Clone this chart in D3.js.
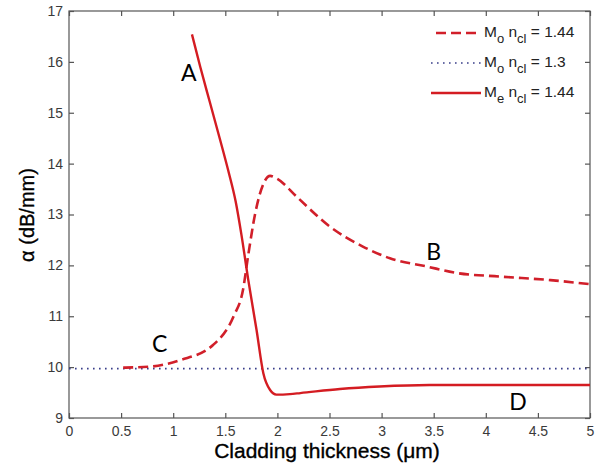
<!DOCTYPE html>
<html>
<head>
<meta charset="utf-8">
<script src="https://cdn.jsdelivr.net/npm/d3@7"></script>
<style>
  body { margin: 0; background: #fff; }
  svg { display: block; }
  .tick text { font-family: "Liberation Sans", Arial, sans-serif; font-size: 14px; fill: #3a3a3a; }
  .label { font-family: "Liberation Sans", Arial, sans-serif; fill: #000; stroke: #000; stroke-width: 0.35px; }
  .legend text { font-family: "Liberation Sans", Arial, sans-serif; font-size: 15.5px; fill: #222; }
  .letter { font-family: Lato, "Open Sans", sans-serif; font-size: 23px; fill: #000; }
</style>
</head>
<body>
<svg width="613" height="470"></svg>
<script>
// thickness (um) vs alpha (dB/mm)
var dashedX = [0.52, 0.78, 1.07, 1.385, 1.58, 1.67, 1.72, 1.785, 1.865, 1.93, 2.0, 2.185, 2.505, 2.82, 3.08, 3.43, 3.72, 4.14, 4.62, 5.0];
var dashedY = [9.99, 10.01, 10.14, 10.44, 11.0, 11.52, 12.2, 13.0, 13.6, 13.76, 13.7, 13.35, 12.76, 12.37, 12.14, 11.98, 11.85, 11.78, 11.71, 11.63];

var dottedX = [0, 5];
var dottedY = [9.97, 9.97];

var solidX = [1.18, 1.26, 1.35, 1.45, 1.53, 1.60, 1.655, 1.72, 1.80, 1.865, 1.93, 1.99, 2.12, 2.22, 2.6, 2.98, 3.46, 4.0, 5.0];
var solidY = [16.54, 15.9, 15.22, 14.47, 13.85, 13.25, 12.6, 11.72, 10.73, 9.88, 9.55, 9.46, 9.47, 9.49, 9.57, 9.62, 9.65, 9.65, 9.65];

var xTicks = [0, 0.5, 1, 1.5, 2, 2.5, 3, 3.5, 4, 4.5, 5];
var yTicks = [9, 10, 11, 12, 13, 14, 15, 16, 17];

var marks = [
  { t: 'A', x: 1.15, y: 15.73 },
  { t: 'B', x: 3.5, y: 12.23 },
  { t: 'C', x: 0.87, y: 10.42 },
  { t: 'D', x: 4.31, y: 9.28 }
];

const svg = d3.select('svg');
const mLeft = 69, mRight = 590, mTop = 11, mBottom = 418;

const x = d3.scaleLinear().domain([0, 5]).range([mLeft, mRight]);
const y = d3.scaleLinear().domain([9, 17]).range([mBottom, mTop]);

const axisColor = '#555';

// frame
svg.append('rect')
  .attr('x', mLeft).attr('y', mTop)
  .attr('width', mRight - mLeft).attr('height', mBottom - mTop)
  .attr('fill', 'none').attr('stroke', axisColor).attr('stroke-width', 1.2);

function styleAxis(g) {
  g.select('.domain').remove();
  g.selectAll('.tick line').attr('stroke', axisColor).attr('stroke-width', 1.2);
}

svg.append('g')
  .attr('transform', `translate(0,${mBottom})`)
  .call(d3.axisBottom(x).tickValues(xTicks).tickSizeInner(-5).tickSizeOuter(0).tickPadding(8).tickFormat(d3.format('')))
  .call(styleAxis);

svg.append('g')
  .attr('transform', `translate(0,${mTop})`)
  .call(d3.axisTop(x).tickValues(xTicks).tickSizeInner(-5).tickSizeOuter(0).tickFormat(''))
  .call(styleAxis);

svg.append('g')
  .attr('transform', `translate(${mLeft},0)`)
  .call(d3.axisLeft(y).tickValues(yTicks).tickSizeInner(-5).tickSizeOuter(0).tickPadding(6))
  .call(styleAxis);

svg.append('g')
  .attr('transform', `translate(${mRight},0)`)
  .call(d3.axisRight(y).tickValues(yTicks).tickSizeInner(-5).tickSizeOuter(0).tickFormat(''))
  .call(styleAxis);

svg.selectAll('.tick text').attr('font-family', null).attr('font-size', null);

const line = d3.line()
  .x(d => x(d[0]))
  .y(d => y(d[1]))
  .curve(d3.curveMonotoneX);

const zip = (a, b) => a.map((v, i) => [v, b[i]]);

svg.append('path')
  .datum(zip(dottedX, dottedY))
  .attr('d', line)
  .attr('fill', 'none')
  .attr('stroke', '#3a3f8a')
  .attr('stroke-width', 1.6)
  .attr('stroke-dasharray', '1.6 4.4');

svg.append('path')
  .datum(zip(dashedX, dashedY))
  .attr('d', line)
  .attr('fill', 'none')
  .attr('stroke', '#d11f2a')
  .attr('stroke-width', 2.6)
  .attr('stroke-dasharray', '10 5');

svg.append('path')
  .datum(zip(solidX, solidY))
  .attr('d', line)
  .attr('fill', 'none')
  .attr('stroke', '#d41c22')
  .attr('stroke-width', 2.4);

svg.selectAll('.letter')
  .data(marks)
  .enter()
  .append('text')
  .attr('class', 'letter')
  .attr('x', d => x(d.x))
  .attr('y', d => y(d.y))
  .attr('text-anchor', 'middle')
  .attr('dominant-baseline', 'middle')
  .text(d => d.t);

// legend
var legendItems = [
  { m: 'o', n: '1.44', dash: '10 5', color: '#d11f2a', w: 2.6 },
  { m: 'o', n: '1.3', dash: '1.6 4.4', color: '#3a3f8a', w: 1.6 },
  { m: 'e', n: '1.44', dash: null, color: '#d41c22', w: 2.4 }
];

const legend = svg.append('g').attr('class', 'legend');
const rows = legend.selectAll('g')
  .data(legendItems)
  .enter()
  .append('g')
  .attr('transform', (d, i) => `translate(0,${33 + i * 30})`);

rows.append('line')
  .attr('x1', (d, i) => i == 0 ? 436 : 431).attr('x2', 481)
  .attr('y1', 0).attr('y2', 0)
  .attr('stroke', d => d.color)
  .attr('stroke-width', d => d.w)
  .attr('stroke-dasharray', d => d.dash);

const lt = rows.append('text').attr('x', 484).attr('y', 4);
lt.append('tspan').text('M');
lt.append('tspan').attr('dy', 6).attr('font-size', 13).text(d => d.m);
lt.append('tspan').attr('dy', -6).text(' n');
lt.append('tspan').attr('dy', 6).attr('font-size', 13).text('cl');
lt.append('tspan').attr('dy', -6).text(d => ' = ' + d.n);

// axis labels
svg.append('text')
  .attr('class', 'label')
  .attr('x', 327)
  .attr('y', 458)
  .attr('text-anchor', 'middle')
  .attr('font-size', 21)
  .text('Cladding thickness (μm)');

svg.append('text')
  .attr('class', 'label')
  .attr('transform', `translate(34,215) rotate(-90)`)
  .attr('text-anchor', 'middle')
  .attr('font-size', 20)
  .text('α (dB/mm)');
</script>
</body>
</html>
